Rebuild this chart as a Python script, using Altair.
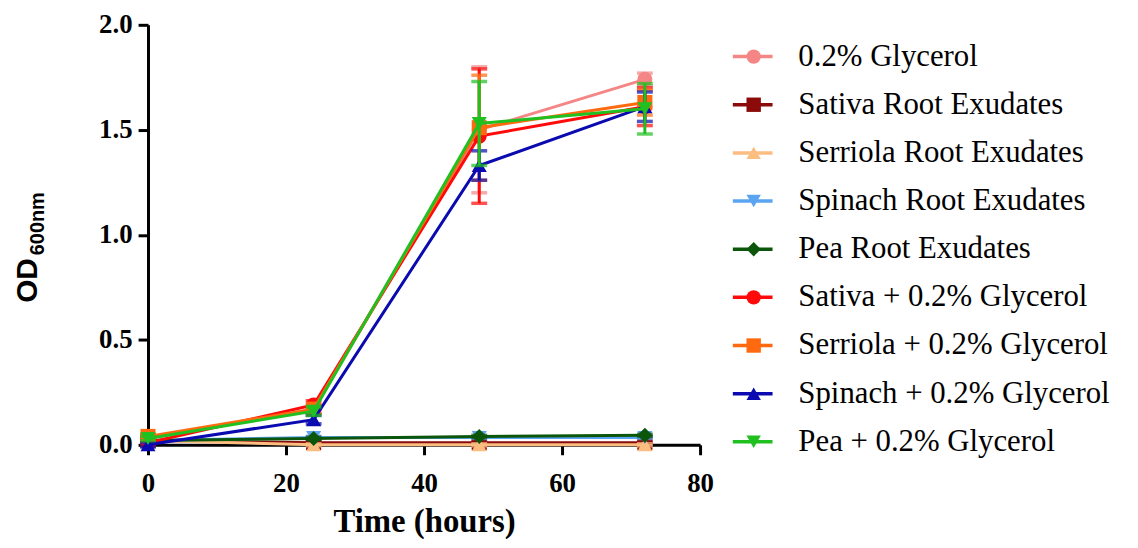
import altair as alt
import pandas as pd

# ---------------- data ----------------
times = [0, 24, 48, 72]

series_names = [
    "0.2% Glycerol",
    "Sativa Root Exudates",
    "Serriola Root Exudates",
    "Spinach Root Exudates",
    "Pea Root Exudates",
    "Sativa + 0.2% Glycerol",
    "Serriola + 0.2% Glycerol",
    "Spinach + 0.2% Glycerol",
    "Pea + 0.2% Glycerol",
]
colors = ["#F48686", "#8B0A0A", "#FBBD80", "#5BA4F2", "#0B560B",
          "#FF0A0A", "#FF6A10", "#0A0AB0", "#20C020"]
shapes = ["circle", "square", "triangle-up", "triangle-down", "diamond",
          "circle", "square", "triangle-up", "triangle-down"]

glycerol_mean = [0.03, 0.17, 1.50, 1.74]
glycerol_sd = [0.01, 0.02, 0.30, 0.03]
sativa_root_mean = [0.02, 0.01, 0.01, 0.01]
sativa_root_sd = [0.005, 0.005, 0.005, 0.005]
serriola_root_mean = [0.02, 0.00, 0.00, 0.00]
serriola_root_sd = [0.005, 0.005, 0.005, 0.005]
spinach_root_mean = [0.02, 0.035, 0.035, 0.035]
spinach_root_sd = [0.005, 0.005, 0.005, 0.005]
pea_root_mean = [0.02, 0.03, 0.04, 0.045]
pea_root_sd = [0.005, 0.005, 0.005, 0.005]
sativa_gly_mean = [0.01, 0.19, 1.47, 1.61]
sativa_gly_sd = [0.01, 0.02, 0.32, 0.09]
serriola_gly_mean = [0.04, 0.17, 1.51, 1.63]
serriola_gly_sd = [0.01, 0.02, 0.25, 0.06]
spinach_gly_mean = [0.00, 0.12, 1.33, 1.61]
spinach_gly_sd = [0.01, 0.02, 0.07, 0.07]
pea_gly_mean = [0.03, 0.16, 1.53, 1.60]
pea_gly_sd = [0.01, 0.02, 0.20, 0.12]

means = [glycerol_mean, sativa_root_mean, serriola_root_mean, spinach_root_mean,
         pea_root_mean, sativa_gly_mean, serriola_gly_mean, spinach_gly_mean, pea_gly_mean]
sds = [glycerol_sd, sativa_root_sd, serriola_root_sd, spinach_root_sd,
       pea_root_sd, sativa_gly_sd, serriola_gly_sd, spinach_gly_sd, pea_gly_sd]

y_ticks = [0, 0.5, 1.0, 1.5, 2.0]
x_ticks = [0, 20, 40, 60, 80]

rows = []
for name, m, s in zip(series_names, means, sds):
    for t, mv, sv in zip(times, m, s):
        rows.append({"series": name, "time": t, "od": mv, "lo": mv - sv, "hi": mv + sv})
df = pd.DataFrame(rows)

# ---------------- styling ----------------
SERIF = "Liberation Serif"
color_scale = alt.Scale(domain=series_names, range=colors)
shape_scale = alt.Scale(domain=series_names, range=shapes)

x_enc = alt.X(
    "time:Q",
    scale=alt.Scale(domain=[0, 80], nice=False, zero=False),
    axis=alt.Axis(
        values=x_ticks, format="d", title="Time (hours)",
        titleFont=SERIF, titleFontSize=33, titleFontWeight="bold", titleColor="black",
        titlePadding=9,
        labelFont=SERIF, labelFontSize=27, labelFontWeight="bold", labelColor="black",
        labelPadding=16, labelFlush=False,
        domainColor="black", domainWidth=3, tickColor="black", tickWidth=3, tickSize=10,
        grid=False,
    ),
)
y_scale = alt.Scale(domain=[0, 2], nice=False, zero=False)
y_axis = alt.Axis(
    values=y_ticks, format=".1f", title=None,
    labelFont=SERIF, labelFontSize=27, labelFontWeight="bold", labelColor="black",
    labelPadding=6, labelFlush=False,
    domainColor="black", domainWidth=3, tickColor="black", tickWidth=3, tickSize=10,
    grid=False,
)

layers = []
for i, name in enumerate(series_names):
    base = alt.Chart(df).transform_filter(alt.datum.series == name)
    col = alt.Color("series:N", scale=color_scale, legend=None)
    line = base.mark_line(strokeWidth=3).encode(
        x=x_enc, y=alt.Y("od:Q", scale=y_scale, axis=y_axis), color=col,
        order="time:Q")
    err = base.mark_rule(strokeWidth=3).encode(
        x="time:Q", y="lo:Q", y2="hi:Q", color=col)
    cap_lo = base.mark_tick(orient="horizontal", size=16, thickness=3.5).encode(
        x="time:Q", y="lo:Q", color=col)
    cap_hi = base.mark_tick(orient="horizontal", size=16, thickness=3.5).encode(
        x="time:Q", y="hi:Q", color=col)
    pts = base.mark_point(filled=True, size=230, opacity=1).encode(
        x="time:Q", y="od:Q", color=col,
        shape=alt.Shape("series:N", scale=shape_scale, legend=None))
    layers += [line, err, cap_lo, cap_hi, pts]

# y-axis title "OD" with subscript "600nm"
od_df = pd.DataFrame({"t": ["OD"]})
sub_df = pd.DataFrame({"t": ["600nm"]})
od_txt = alt.Chart(od_df).mark_text(
    angle=270, align="left", baseline="alphabetic", font="Liberation Sans",
    fontWeight="bold", fontSize=30, color="black").encode(
    text="t:N", x=alt.value(-112), y=alt.value(280))
sub_txt = alt.Chart(sub_df).mark_text(
    angle=270, align="left", baseline="alphabetic", font="Liberation Sans",
    fontWeight="bold", fontSize=20, color="black").encode(
    text="t:N", x=alt.value(-105), y=alt.value(232))
layers += [od_txt, sub_txt]

main = alt.layer(*layers)

# ---------------- legend ----------------
leg_df = pd.DataFrame({"series": series_names})
leg_y = alt.Y("series:N", sort=series_names,
              scale=alt.Scale(type="point", range=[32, 420], padding=0), axis=None)
leg_col = alt.Color("series:N", scale=color_scale, legend=None)
leg_line = alt.Chart(leg_df).mark_rule(strokeWidth=3.5).encode(
    x=alt.value(589), x2=alt.value(629), y=leg_y, color=leg_col)
leg_pt = alt.Chart(leg_df).mark_point(filled=True, size=210, opacity=1).encode(
    x=alt.value(610), y=leg_y, color=leg_col,
    shape=alt.Shape("series:N", scale=shape_scale, legend=None))
leg_txt = alt.Chart(leg_df).mark_text(
    align="left", baseline="middle", font=SERIF, fontSize=31, color="black").encode(
    x=alt.value(655), y=leg_y, text="series:N")
legend = alt.layer(leg_line, leg_pt, leg_txt)

chart = alt.layer(main, legend).resolve_scale(y="independent").properties(
    width=556, height=423,
    autosize=alt.AutoSizeParams(type="none"),
    padding={"left": 141, "top": 15, "right": 433, "bottom": 102},
).configure_view(stroke=None)

chart.save("out.html", embed_options={"renderer": "svg", "actions": False})
